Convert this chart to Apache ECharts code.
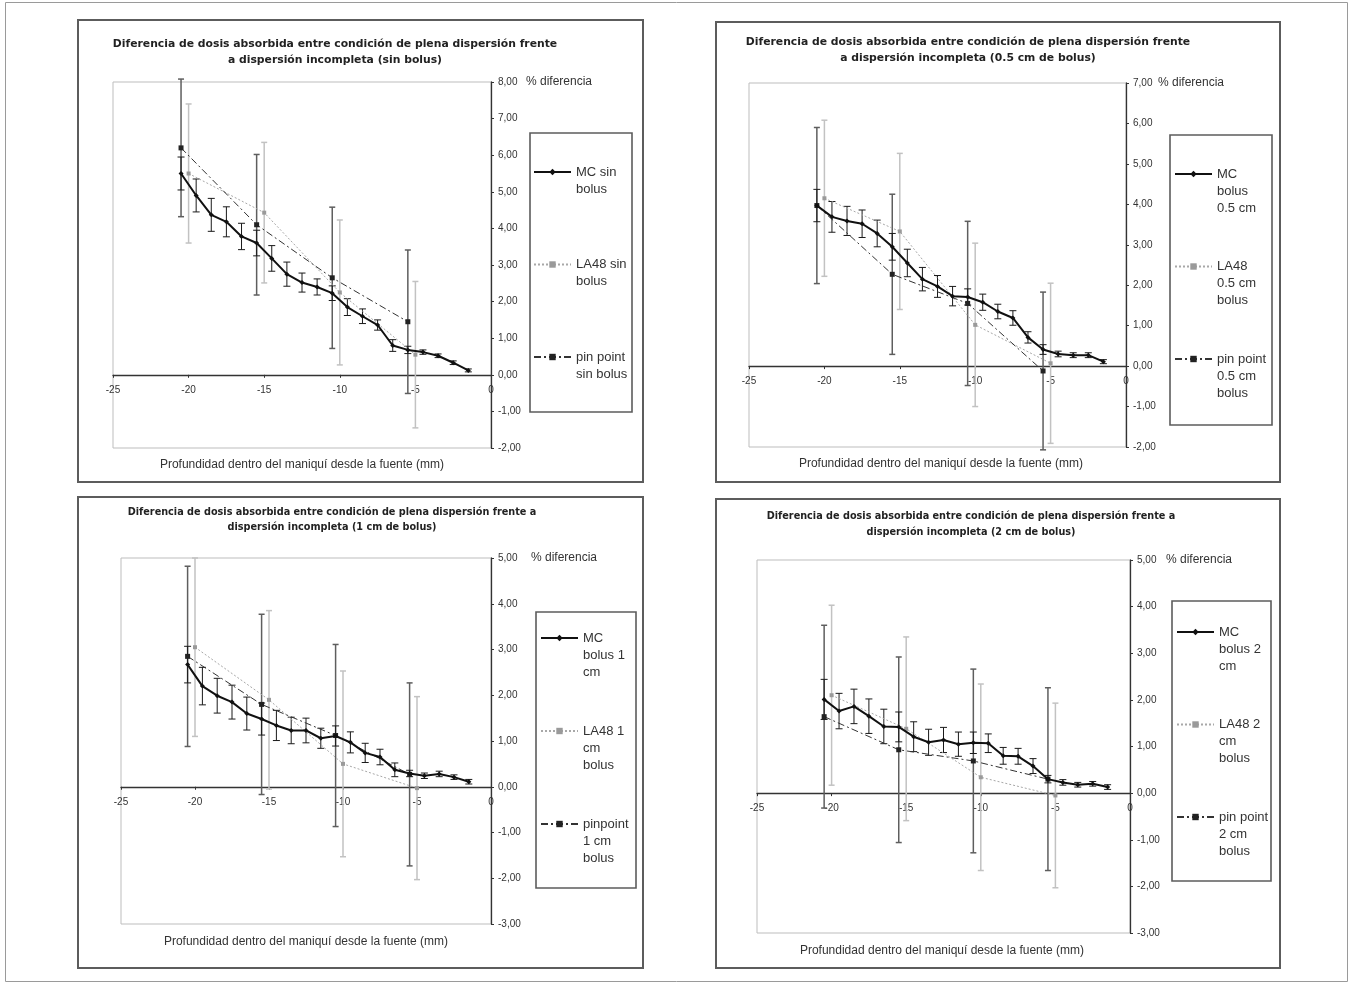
<!DOCTYPE html>
<html>
<head>
<meta charset="utf-8">
<script src="https://cdn.jsdelivr.net/npm/echarts@6/dist/echarts.min.js"></script>
<style>
html, body { margin: 0; padding: 0; background: #fff; }
#chart { width: 1353px; height: 985px; }
</style>
</head>
<body>
<div id="chart"></div>
<script>
// Depth of each measurement point (mm from the source)
const mcDepth = [-20.5, -19.5, -18.5, -17.5, -16.5, -15.5, -14.5, -13.5, -12.5, -11.5,
                 -10.5, -9.5, -8.5, -7.5, -6.5, -5.5, -4.5, -3.5, -2.5, -1.5];
const la48Depth = [-20, -15, -10, -5];
const pinDepth = [-20.5, -15.5, -10.5, -5.5];

// Sin bolus
const mcSinBolus    = [5.50, 4.90, 4.37, 4.18, 3.78, 3.60, 3.18, 2.75, 2.52, 2.40, 2.23, 1.85, 1.60, 1.36, 0.80, 0.68, 0.62, 0.52, 0.33, 0.12];
const mcSinBolusErr = [0.45, 0.45, 0.45, 0.41, 0.36, 0.35, 0.35, 0.33, 0.26, 0.22, 0.20, 0.23, 0.20, 0.14, 0.16, 0.10, 0.06, 0.05, 0.05, 0.04];
const la48SinBolus    = [5.50, 4.43, 2.25, 0.55];
const la48SinBolusErr = [1.90, 1.92, 1.98, 2.00];
const pinSinBolus     = [6.20, 4.10, 2.65, 1.45];
const pinSinBolusErr  = [1.88, 1.92, 1.93, 1.96];

// 0.5 cm bolus
const mcBolus05    = [3.97, 3.69, 3.59, 3.52, 3.28, 2.95, 2.55, 2.15, 1.97, 1.73, 1.71, 1.58, 1.35, 1.19, 0.71, 0.41, 0.30, 0.27, 0.27, 0.11];
const mcBolus05Err = [0.40, 0.38, 0.36, 0.34, 0.33, 0.33, 0.34, 0.29, 0.27, 0.24, 0.20, 0.20, 0.18, 0.18, 0.14, 0.12, 0.07, 0.06, 0.06, 0.05];
const la48Bolus05    = [4.15, 3.33, 1.02, 0.07];
const la48Bolus05Err = [1.93, 1.93, 2.02, 1.98];
const pinBolus05     = [3.97, 2.27, 1.55, -0.12];
const pinBolus05Err  = [1.93, 1.98, 2.03, 1.95];

// 1 cm bolus
const mcBolus1    = [2.67, 2.20, 1.99, 1.85, 1.60, 1.48, 1.34, 1.23, 1.23, 1.06, 1.11, 0.97, 0.74, 0.65, 0.37, 0.29, 0.24, 0.28, 0.21, 0.11];
const mcBolus1Err = [0.40, 0.41, 0.38, 0.37, 0.36, 0.35, 0.33, 0.29, 0.27, 0.22, 0.22, 0.23, 0.21, 0.17, 0.15, 0.07, 0.06, 0.06, 0.05, 0.05];
const la48Bolus1    = [3.05, 1.90, 0.50, -0.03];
const la48Bolus1Err = [1.95, 1.95, 2.03, 2.00];
const pinBolus1     = [2.85, 1.80, 1.12, 0.27];
const pinBolus1Err  = [1.97, 1.97, 1.99, 2.00];

// 2 cm bolus
const mcBolus2    = [2.01, 1.76, 1.86, 1.65, 1.43, 1.42, 1.21, 1.09, 1.14, 1.05, 1.08, 1.07, 0.80, 0.79, 0.58, 0.30, 0.23, 0.18, 0.20, 0.13];
const mcBolus2Err = [0.43, 0.38, 0.37, 0.37, 0.37, 0.32, 0.32, 0.28, 0.27, 0.26, 0.23, 0.20, 0.18, 0.17, 0.16, 0.08, 0.06, 0.05, 0.05, 0.05];
const la48Bolus2    = [2.10, 1.38, 0.34, -0.05];
const la48Bolus2Err = [1.93, 1.97, 2.00, 1.98];
const pinBolus2     = [1.64, 0.93, 0.69, 0.30];
const pinBolus2Err  = [1.96, 1.99, 1.97, 1.96];

// Axis ranges
const xRange = [-25, 0];
const yRangeSinBolus = [-2, 8];
const yRangeBolus05  = [-2, 7];
const yRangeBolus1   = [-3, 5];
const yRangeBolus2   = [-3, 5];

// Texts
const yAxisName = '% diferencia';
const xCaption = 'Profundidad dentro del maniquí desde la fuente (mm)';
const titleSinBolus = ['Diferencia de dosis absorbida entre condición de plena dispersión frente', 'a dispersión incompleta (sin bolus)'];
const titleBolus05  = ['Diferencia de dosis absorbida entre condición de plena dispersión frente', 'a dispersión incompleta (0.5 cm de bolus)'];
const titleBolus1   = ['Diferencia de dosis absorbida entre condición de plena dispersión frente a', 'dispersión incompleta (1 cm de bolus)'];
const titleBolus2   = ['Diferencia de dosis absorbida entre condición de plena dispersión frente a', 'dispersión incompleta (2 cm de bolus)'];
const seriesSinBolus = ['MC sin bolus', 'LA48 sin bolus', 'pin point sin bolus'];
const seriesBolus05  = ['MC bolus 0.5 cm', 'LA48 0.5 cm bolus', 'pin point 0.5 cm bolus'];
const seriesBolus1   = ['MC bolus 1 cm', 'LA48 1 cm bolus', 'pinpoint 1 cm bolus'];
const seriesBolus2   = ['MC bolus 2 cm', 'LA48 2 cm bolus', 'pin point 2 cm bolus'];
const legendSinBolus = [['MC sin', 'bolus'], ['LA48 sin', 'bolus'], ['pin point', 'sin bolus']];
const legendBolus05  = [['MC', 'bolus', '0.5 cm'], ['LA48', '0.5 cm', 'bolus'], ['pin point', '0.5 cm', 'bolus']];
const legendBolus1   = [['MC', 'bolus 1', 'cm'], ['LA48 1', 'cm', 'bolus'], ['pinpoint', '1 cm', 'bolus']];
const legendBolus2   = [['MC', 'bolus 2', 'cm'], ['LA48 2', 'cm', 'bolus'], ['pin point', '2 cm', 'bolus']];

// Panel layout
const panels = [
  { mc: mcSinBolus, mcErr: mcSinBolusErr, la: la48SinBolus, laErr: la48SinBolusErr, pin: pinSinBolus, pinErr: pinSinBolusErr,
    yRange: yRangeSinBolus, title: titleSinBolus, names: seriesSinBolus, legendText: legendSinBolus,
    frame: [78, 20, 565, 462], grid: { left: 113, top: 82, width: 378, height: 366 },
    titleAt: { x: 335, y: 36, lh: 16, size: 10.8 }, captionAt: { x: 302, y: 458 },
    legendFrame: [530, 133, 102, 279], legendAt: { left: 533, firstLine: 172, step: 92.5 }, nameShift: 35 },
  { mc: mcBolus05, mcErr: mcBolus05Err, la: la48Bolus05, laErr: la48Bolus05Err, pin: pinBolus05, pinErr: pinBolus05Err,
    yRange: yRangeBolus05, title: titleBolus05, names: seriesBolus05, legendText: legendBolus05,
    frame: [716, 22, 564, 460], grid: { left: 749, top: 83, width: 377, height: 364 },
    titleAt: { x: 968, y: 34, lh: 16, size: 10.8 }, captionAt: { x: 941, y: 457 },
    legendFrame: [1170, 135, 102, 290], legendAt: { left: 1174, firstLine: 174, step: 92.5 }, nameShift: 32 },
  { mc: mcBolus1, mcErr: mcBolus1Err, la: la48Bolus1, laErr: la48Bolus1Err, pin: pinBolus1, pinErr: pinBolus1Err,
    yRange: yRangeBolus1, title: titleBolus1, names: seriesBolus1, legendText: legendBolus1,
    frame: [78, 497, 565, 471], grid: { left: 121, top: 558, width: 370, height: 366 },
    titleAt: { x: 332, y: 504.5, lh: 15, size: 9.7 }, captionAt: { x: 306, y: 935 },
    legendFrame: [536, 612, 100, 276], legendAt: { left: 540, firstLine: 638, step: 93 }, nameShift: 40 },
  { mc: mcBolus2, mcErr: mcBolus2Err, la: la48Bolus2, laErr: la48Bolus2Err, pin: pinBolus2, pinErr: pinBolus2Err,
    yRange: yRangeBolus2, title: titleBolus2, names: seriesBolus2, legendText: legendBolus2,
    frame: [716, 499, 564, 469], grid: { left: 757, top: 560, width: 373, height: 373 },
    titleAt: { x: 971, y: 508, lh: 16.5, size: 9.7 }, captionAt: { x: 942, y: 944 },
    legendFrame: [1172, 601, 99, 280], legendAt: { left: 1176, firstLine: 632, step: 92.5 }, nameShift: 36 }
];

const LH = 17;          // legend line height
const ICON_H = 8;       // legend icon height
const pairs = (xs, ys) => xs.map((x, i) => [x, ys[i]]);
const bars = (xs, ys, es) => xs.map((x, i) => [x, ys[i] - es[i], ys[i] + es[i]]);
const fmt = v => v.toFixed(2).replace('.', ',');

function errorBar(color, width, cap) {
  return function (params, api) {
    const x = api.value(0);
    const lo = api.coord([x, api.value(1)]);
    const hi = api.coord([x, api.value(2)]);
    const style = { stroke: color, lineWidth: width };
    return {
      type: 'group',
      children: [
        { type: 'line', shape: { x1: lo[0], y1: lo[1], x2: hi[0], y2: hi[1] }, style },
        { type: 'line', shape: { x1: lo[0] - cap, y1: lo[1], x2: lo[0] + cap, y2: lo[1] }, style },
        { type: 'line', shape: { x1: hi[0] - cap, y1: hi[1], x2: hi[0] + cap, y2: hi[1] }, style }
      ]
    };
  };
}

const option = {
  animation: false,
  backgroundColor: '#ffffff',
  textStyle: { fontFamily: 'Liberation Sans, Arial, sans-serif' },
  title: [], grid: [], xAxis: [], yAxis: [], legend: [], series: [], graphic: []
};

// Outer border of the whole figure
option.graphic.push({
  type: 'rect', z: 0, silent: true,
  shape: { x: 5.5, y: 2.5, width: 1342, height: 979 },
  style: { fill: 'none', stroke: '#9a9a9a', lineWidth: 1 }
});

panels.forEach((p, i) => {
  option.graphic.push({
    type: 'rect', z: 0, silent: true,
    shape: { x: p.frame[0], y: p.frame[1], width: p.frame[2], height: p.frame[3] },
    style: { fill: 'none', stroke: '#5c5c5c', lineWidth: 2 }
  });
  option.graphic.push({
    type: 'rect', z: 0, silent: true,
    shape: { x: p.legendFrame[0], y: p.legendFrame[1], width: p.legendFrame[2], height: p.legendFrame[3] },
    style: { fill: '#fff', stroke: '#5c5c5c', lineWidth: 1.6 }
  });

  option.title.push({
    text: p.title.join('\n'), left: p.titleAt.x, top: p.titleAt.y, padding: 0,
    textAlign: 'center', textVerticalAlign: 'top',
    textStyle: { fontFamily: 'DejaVu Sans', fontSize: p.titleAt.size, fontWeight: 'bold', color: '#222', lineHeight: p.titleAt.lh }
  });
  option.title.push({
    text: xCaption, left: p.captionAt.x, top: p.captionAt.y, padding: 0,
    textAlign: 'center', textVerticalAlign: 'top',
    textStyle: { fontFamily: 'Liberation Sans', fontSize: 12, fontWeight: 'normal', color: '#333', lineHeight: 14 }
  });

  option.grid.push(Object.assign({
    show: true, borderColor: '#bdbdbd', borderWidth: 1, backgroundColor: 'transparent', containLabel: false
  }, p.grid));

  // x axis drawn across the plot at y = 0
  const zeroOffset = -p.grid.height * (0 - p.yRange[0]) / (p.yRange[1] - p.yRange[0]);
  option.xAxis.push({
    gridIndex: i, type: 'value', min: xRange[0], max: xRange[1], interval: 5,
    position: 'bottom', offset: zeroOffset,
    axisLine: { show: true, onZero: false, lineStyle: { color: '#333', width: 1.3 } },
    axisTick: { show: true, length: 3, lineStyle: { color: '#333' } },
    axisLabel: { fontSize: 10, color: '#333', margin: 10 },
    splitLine: { show: false }
  });

  option.yAxis.push({
    gridIndex: i, type: 'value', position: 'right', min: p.yRange[0], max: p.yRange[1], interval: 1,
    axisLine: { show: true, onZero: false, lineStyle: { color: '#333', width: 1.3 } },
    axisTick: { show: true, length: 3, lineStyle: { color: '#333' } },
    axisLabel: { fontSize: 10, color: '#333', margin: 7, formatter: fmt },
    splitLine: { show: false },
    name: yAxisName, nameLocation: 'end', nameGap: 0, nameMoveOverlap: false,
    nameTextStyle: { fontSize: 12, color: '#333', align: 'left', verticalAlign: 'middle', padding: [0, 0, 0, p.nameShift] }
  });

  // one legend block per series; blank lines above the text keep the
  // icon level with the first text line
  p.names.forEach((n, k) => {
    const lines = p.legendText[k];
    const blanks = lines.length - 1;
    const label = '\n'.repeat(blanks) + lines.join('\n');
    const iconY = p.legendAt.firstLine + k * p.legendAt.step;
    option.legend.push({
      data: [n], orient: 'vertical', left: p.legendAt.left,
      top: iconY - (2 * lines.length - 1) * LH / 2,
      padding: 0, itemWidth: 37, itemHeight: ICON_H, selectedMode: false,
      formatter: () => label,
      textStyle: { fontSize: 13, lineHeight: LH, color: '#333' }
    });
  });

  // error bars
  option.series.push({
    type: 'custom', name: p.names[1] + ' (±)', xAxisIndex: i, yAxisIndex: i, z: 1,
    renderItem: errorBar('#c2c2c2', 1.5, 3), encode: { x: 0, y: [1, 2] },
    data: bars(la48Depth, p.la, p.laErr)
  });
  option.series.push({
    type: 'custom', name: p.names[2] + ' (±)', xAxisIndex: i, yAxisIndex: i, z: 2,
    renderItem: errorBar('#5e5e5e', 1.5, 3), encode: { x: 0, y: [1, 2] },
    data: bars(pinDepth, p.pin, p.pinErr)
  });
  option.series.push({
    type: 'custom', name: p.names[0] + ' (±)', xAxisIndex: i, yAxisIndex: i, z: 3,
    renderItem: errorBar('#1a1a1a', 1, 3.5), encode: { x: 0, y: [1, 2] },
    data: bars(mcDepth, p.mc, p.mcErr)
  });

  // curves
  option.series.push({
    type: 'line', name: p.names[1], xAxisIndex: i, yAxisIndex: i, z: 4,
    data: pairs(la48Depth, p.la), symbol: 'rect', symbolSize: 4,
    lineStyle: { color: '#a8a8a8', width: 1, type: [2, 2] }, itemStyle: { color: '#9a9a9a' }
  });
  option.series.push({
    type: 'line', name: p.names[2], xAxisIndex: i, yAxisIndex: i, z: 5,
    data: pairs(pinDepth, p.pin), symbol: 'rect', symbolSize: 5,
    lineStyle: { color: '#333', width: 1, type: [7, 3, 2, 3] }, itemStyle: { color: '#222' }
  });
  option.series.push({
    type: 'line', name: p.names[0], xAxisIndex: i, yAxisIndex: i, z: 6,
    data: pairs(mcDepth, p.mc), symbol: 'diamond', symbolSize: 5,
    lineStyle: { color: '#111', width: 2 }, itemStyle: { color: '#111' }
  });
});

const chart = echarts.init(document.getElementById('chart'), null, { renderer: 'canvas' });
chart.setOption(option);
</script>
</body>
</html>
